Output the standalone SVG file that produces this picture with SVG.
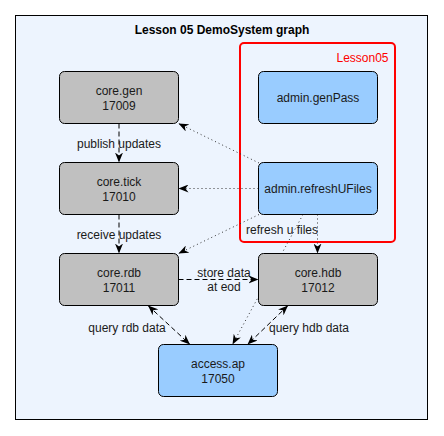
<svg xmlns="http://www.w3.org/2000/svg" width="444" height="436" viewBox="0 0 444 436">
<defs>
<style>
text{font-family:"Liberation Sans",Arial,sans-serif;font-size:12px;fill:#1a1a1a;text-anchor:middle}
.title{font-weight:bold;fill:#000}
.grey{fill:#c0c0c0;stroke:#000;stroke-width:1}
.blue{fill:#99ccff;stroke:#000;stroke-width:1}
.dash{fill:none;stroke:#000;stroke-width:1;stroke-dasharray:5,3}
.dot{fill:none;stroke:#333;stroke-width:1;stroke-dasharray:1,3}
</style>
<marker id="arr" viewBox="0 0 10 8" refX="10" refY="4" markerWidth="10" markerHeight="8" markerUnits="userSpaceOnUse" orient="auto-start-reverse">
<path d="M0,0 L10,4 L0,8 L3,4 z" fill="#000"/>
</marker>
</defs>
<rect x="15.5" y="15.5" width="412" height="404" fill="#edf4fe" stroke="#000" stroke-width="1"/>
<text class="title" x="222" y="34">Lesson 05 DemoSystem graph</text>
<g id="cluster-lesson05">
<rect x="240" y="43" width="155" height="199" rx="4" fill="none" stroke="#ff0000" stroke-width="2"/>
<text x="388.5" y="61.5" style="text-anchor:end;fill:#ff0000">Lesson05</text>
</g>
<g id="edges">
<line class="dash" x1="119" y1="123.5" x2="119" y2="162.5" marker-end="url(#arr)"/>
<line class="dash" x1="119" y1="214.5" x2="119" y2="253.5" marker-end="url(#arr)"/>
<line class="dash" x1="178.5" y1="279.5" x2="258.5" y2="279.5" marker-end="url(#arr)"/>
<line class="dash" x1="148" y1="305.5" x2="190" y2="344.5" marker-start="url(#arr)" marker-end="url(#arr)"/>
<line class="dash" x1="288" y1="305.5" x2="247.5" y2="344.5" marker-start="url(#arr)" marker-end="url(#arr)"/>
<line class="dot" x1="259" y1="163" x2="178.5" y2="123.5" marker-end="url(#arr)"/>
<line class="dot" x1="258.5" y1="188.5" x2="178.5" y2="188.5" marker-end="url(#arr)"/>
<line class="dot" x1="259" y1="214.5" x2="178.5" y2="253.5" marker-end="url(#arr)"/>
<line class="dot" x1="317.5" y1="214.5" x2="317.5" y2="253.5" marker-end="url(#arr)"/>
<line class="dot" x1="303" y1="214.5" x2="232.5" y2="344.5" marker-end="url(#arr)"/>
<text x="119" y="148">publish updates</text>
<text x="119" y="239">receive updates</text>
<text x="224" y="277">store data</text>
<text x="224" y="291">at eod</text>
<text x="127" y="332">query rdb data</text>
<text x="309" y="332">query hdb data</text>
<text x="282" y="233.5">refresh u files</text>
</g>
<g id="core-gen"><rect class="grey" x="59.5" y="71.5" width="119" height="52" rx="5"/><text x="119" y="95">core.gen</text><text x="119" y="110">17009</text></g>
<g id="admin-genPass"><rect class="blue" x="258.5" y="71.5" width="119" height="52" rx="5"/><text x="318" y="102">admin.genPass</text></g>
<g id="core-tick"><rect class="grey" x="59.5" y="162.5" width="119" height="52" rx="5"/><text x="119" y="186">core.tick</text><text x="119" y="201">17010</text></g>
<g id="admin-refreshUFiles"><rect class="blue" x="258.5" y="162.5" width="119" height="52" rx="5"/><text x="318" y="193">admin.refreshUFiles</text></g>
<g id="core-rdb"><rect class="grey" x="59.5" y="253.5" width="119" height="52" rx="5"/><text x="119" y="277">core.rdb</text><text x="119" y="292">17011</text></g>
<g id="core-hdb"><rect class="grey" x="258.5" y="253.5" width="119" height="52" rx="5"/><text x="318" y="277">core.hdb</text><text x="318" y="292">17012</text></g>
<g id="access-ap"><rect class="blue" x="158.5" y="344.5" width="119" height="52" rx="5"/><text x="218" y="368">access.ap</text><text x="218" y="383">17050</text></g>
</svg>
